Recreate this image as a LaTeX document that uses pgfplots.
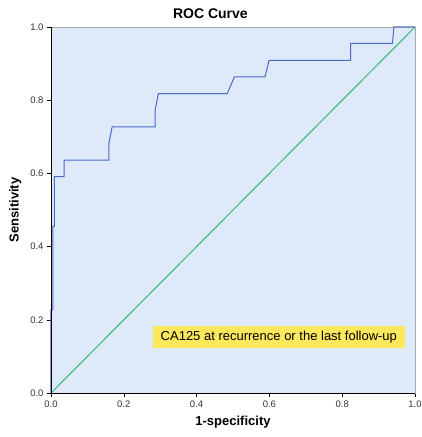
\documentclass[border=0pt]{standalone}
\usepackage{fontspec}
\setmainfont{Liberation Sans}
\usepackage{pgfplots}
\pgfplotsset{compat=1.18}

\definecolor{bgblue}{RGB}{222,234,250}
\definecolor{rocblue}{RGB}{75,105,200}
\definecolor{refgreen}{RGB}{50,185,110}
\definecolor{boxyellow}{RGB}{252,232,90}

\begin{document}
\begin{tikzpicture}
\begin{axis}[
    name=roc,
    scale only axis,
    width=364pt, height=366pt,
    xmin=0, xmax=1, ymin=0, ymax=1,
    xtick={0,0.2,...,1}, ytick={0,0.2,...,1},
    /pgf/number format/assume math mode=true,
    xticklabel style={/pgf/number format/.cd,fixed,fixed zerofill,precision=1},
    yticklabel style={/pgf/number format/.cd,fixed,fixed zerofill,precision=1},
    ticklabel style={font=\fontsize{9.5}{11}\selectfont, text=black!80},
    tick align=outside, tick pos=left,
    major tick length=4pt,
    tick style={black, thin},
    axis line style={gray!70, thin},
    axis background/.style={fill=bgblue},
    title={\fontsize{14}{16}\selectfont\bfseries ROC Curve},
    title style={at={(rel axis cs:0.438,1)}, anchor=south, yshift=-1pt},
    xlabel={\fontsize{13}{15}\selectfont\bfseries 1-specificity},
    ylabel={\fontsize{13}{15}\selectfont\bfseries Sensitivity},
    xlabel style={yshift=-2pt},
    ylabel style={yshift=2pt},
    clip=false,
]
\addplot[refgreen, line width=1pt] coordinates {(0,0) (1,1)};
\addplot[rocblue, line width=1pt] coordinates {
    (0,0) (0,0.227) (0.005,0.227) (0.005,0.455) (0.009,0.455) (0.009,0.591)
    (0.036,0.591) (0.036,0.636) (0.159,0.636) (0.159,0.682) (0.168,0.727)
    (0.286,0.727) (0.286,0.773) (0.295,0.818) (0.484,0.818) (0.504,0.864)
    (0.588,0.864) (0.599,0.909) (0.823,0.909) (0.823,0.955) (0.938,0.955)
    (0.942,1) (1,1)
};
\draw[black, thin] (rel axis cs:0,1) -- (rel axis cs:0,0) -- (rel axis cs:1,0);
\node[fill=boxyellow, inner xsep=8pt, inner ysep=5pt,
      font=\fontsize{13}{15}\selectfont] at (axis cs:0.626,0.153)
      {CA125 at recurrence or the last follow-up};
\end{axis}
\pgfresetboundingbox
\useasboundingbox ([xshift=-51pt,yshift=-44pt]roc.south west) rectangle ([xshift=6pt,yshift=27pt]roc.north east);
\end{tikzpicture}
\end{document}
